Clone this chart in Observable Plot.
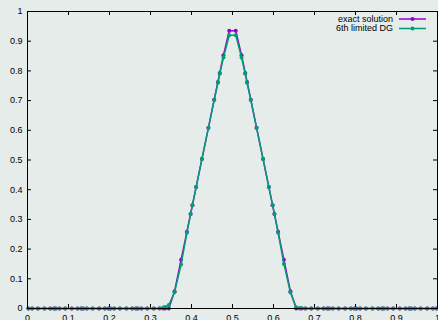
<!DOCTYPE html>
<html><head><meta charset="utf-8">
<script src="https://cdn.jsdelivr.net/npm/d3@7"></script>
<script src="https://cdn.jsdelivr.net/npm/@observablehq/plot@0.6"></script>
<style>
body{margin:0;background:#e5ecea}
#chart{position:relative;width:438px;height:320px;overflow:hidden}
</style>
</head><body><div id="chart"></div>
<script>
const xNodes = [
0.00225,0.01129,0.02538,0.04129,0.05537,0.06442,
0.06892,0.07796,0.09205,0.10795,0.12204,0.13108,
0.13559,0.14463,0.15871,0.17462,0.18871,0.19775,
0.20225,0.21129,0.22538,0.24129,0.25537,0.26442,
0.26892,0.27796,0.29205,0.30795,0.32204,0.33108,
0.33559,0.34463,0.35871,0.37462,0.38871,0.39775,
0.40225,0.41129,0.42538,0.44129,0.45537,0.46442,
0.46892,0.47796,0.49205,0.50795,0.52204,0.53108,
0.53559,0.54463,0.55871,0.57462,0.58871,0.59775,
0.60225,0.61129,0.62538,0.64129,0.65537,0.66442,
0.66892,0.67796,0.69205,0.70795,0.72204,0.73108,
0.73559,0.74463,0.75871,0.77462,0.78871,0.79775,
0.80225,0.81129,0.82538,0.84129,0.85537,0.86442,
0.86892,0.87796,0.89205,0.90795,0.92204,0.93108,
0.93559,0.94463,0.95871,0.97462,0.98871,0.99775];
const exactValues = [
0,0,0,0,0,0, 0,0,0,0,0,0, 0,0,0,0,0,0, 0,0,0,0,0,0, 0,0,0,0,0,0,
0,0,0.058,0.164,0.258,0.318,
0.348,0.409,0.503,0.609,0.703,0.763,
0.793,0.853,0.935,0.935,0.853,0.793,
0.763,0.703,0.609,0.503,0.409,0.348,
0.318,0.258,0.164,0.058,0,0,
0,0,0,0,0,0, 0,0,0,0,0,0, 0,0,0,0,0,0, 0,0,0,0,0,0, 0,0,0,0,0,0];
const dgValues = [
0,0,0,0,0,0, 0,0,0,0,0,0, 0,0,0,0,0,0, 0,0,0,0,0,0,
0,0,0,0,0.001,0.003,
0.005,0.012,0.055,0.148,0.255,0.318,
0.348,0.409,0.503,0.608,0.702,0.760,
0.790,0.845,0.920,0.920,0.845,0.790,
0.760,0.702,0.608,0.503,0.409,0.348,
0.318,0.255,0.150,0.054,0.004,0.002,
0.001,0,0,0,0,0,
0,0,0,0,0,0, 0,0,0,0,0,0, 0,0,0,0,0,0, 0,0,0,0,0,0];
const seriesNames = ["exact solution", "6th limited DG"];
const seriesColors = ["#9400d3", "#009e73"];
const xTicks = [0,0.1,0.2,0.3,0.4,0.5,0.6,0.7,0.8,0.9,1];
const yTicks = [0,0.1,0.2,0.3,0.4,0.5,0.6,0.7,0.8,0.9,1];

const W = 438, H = 320, mL = 27, mR = 1, mT = 11, mB = 12;
const pw = W - mL - mR, ph = H - mT - mB, tk = 4;
const series = [exactValues, dgValues].map(vals => xNodes.map((x, i) => ({x, y: vals[i]})));

const plot = Plot.plot({
  width: W, height: H,
  marginLeft: mL, marginRight: mR, marginTop: mT, marginBottom: mB,
  style: {background: "#e5ecea", fontFamily: "'Liberation Sans', Arial, sans-serif", fontSize: "9px", color: "#000"},
  x: {domain: [0, 1]},
  y: {domain: [0, 1]},
  marks: [
    Plot.ruleX(xTicks, {x: d => d, insetTop: ph - tk, stroke: "#000"}),
    Plot.ruleX(xTicks, {x: d => d, insetBottom: ph - tk, stroke: "#000"}),
    Plot.ruleY(yTicks, {y: d => d, insetRight: pw - tk, stroke: "#000"}),
    Plot.ruleY(yTicks, {y: d => d, insetLeft: pw - tk, stroke: "#000"}),
    Plot.axisX({ticks: xTicks, tickSize: 0, tickPadding: 6, label: null, tickFormat: d => String(d)}),
    Plot.axisY({ticks: yTicks, tickSize: 0, tickPadding: 5, label: null, tickFormat: d => String(d)}),
    ...series.flatMap((data, i) => [
      Plot.line(data, {x: "x", y: "y", stroke: seriesColors[i], strokeWidth: 1.5}),
      Plot.dot(data, {x: "x", y: "y", r: 2, fill: seriesColors[i], stroke: "none"})
    ]),
    Plot.frame({stroke: "#000", strokeWidth: 1})
  ]
});
document.getElementById("chart").appendChild(plot);

// legend
const svg = d3.select(plot);
const lg = svg.append("g").attr("font-family", "'Liberation Sans', Arial, sans-serif").attr("font-size", 9);
seriesNames.forEach((name, i) => {
  const y = 19 + i * 9.5;
  lg.append("text").attr("x", 393).attr("y", y).attr("dy", "0.32em").attr("text-anchor", "end").attr("fill", "#000").text(name);
  lg.append("line").attr("x1", 399).attr("x2", 426).attr("y1", y).attr("y2", y).attr("stroke", seriesColors[i]).attr("stroke-width", 1.5);
  lg.append("circle").attr("cx", 412.5).attr("cy", y).attr("r", 2).attr("fill", seriesColors[i]);
});
</script>
</body></html>
